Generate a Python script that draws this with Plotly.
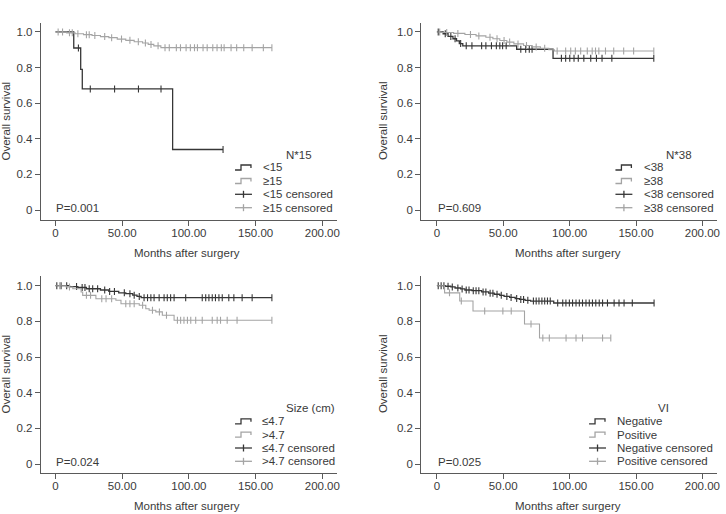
import numpy as np
import plotly.graph_objects as go

W, H = 726, 514

# ---------------- data (months, survival) ----------------
# Panel 1: N*15
lt15_ev = [13.7, 18.9, 20.1, 87.8]
lt15_s = [0.91, 0.79, 0.68, 0.34]
lt15_cens = [17.2, 26.1, 44.3, 62.2, 79.1, 125.6]
ge15_ev = [8.4, 14.7, 21, 27.4, 33.7, 40, 46.3, 52.7, 59, 65.3, 69.5, 73.7, 79]
ge15_s = [0.995, 0.99, 0.985, 0.98, 0.974, 0.968, 0.96, 0.953, 0.945, 0.938, 0.93, 0.922, 0.912]
ge15_cens = [2, 5.3, 10.5, 12.6, 16.8, 23.2, 25.3, 29.5, 36.9, 42.1, 49.5, 55.8, 62.1, 67.4, 71.6,
             76.9, 82.1, 85.3, 90.6, 93.7, 97.9, 101.1, 104.2, 106.4, 110.6, 113.7, 117.9, 121.1,
             124.3, 126.4, 131.6, 135.8, 141.1, 147.4, 155.8, 162.2]

# Panel 2: N*38
lt38_ev = [4.7, 8.4, 12.1, 14.8, 16.9, 19.5, 60.1, 87.5]
lt38_s = [0.99, 0.975, 0.962, 0.95, 0.935, 0.922, 0.903, 0.852]
lt38_cens = [1, 6.3, 10.5, 13.7, 17.9, 22.1, 26.4, 33.7, 36.9, 41.1, 44.8, 47.4, 49.5, 52.2, 63.2,
             66.9, 69.6, 71.7, 93.8, 97, 100.1, 103.3, 106.5, 110.7, 115.9, 120.2, 124.4, 131.8, 163.4]
ge38_ev = [3.2, 12.6, 21.1, 29.5, 36.9, 42.2, 47.4, 52.7, 58, 65.3, 71.7, 78, 84.3, 88.5]
ge38_s = [0.997, 0.992, 0.986, 0.978, 0.97, 0.962, 0.952, 0.943, 0.933, 0.924, 0.916, 0.908, 0.9, 0.893]
ge38_cens = [2.1, 7.4, 15.8, 25.3, 31.6, 40, 45.3, 50.6, 54.8, 61.1, 67.5, 74.8, 81.2, 90.6, 97,
             100.8, 104.3, 108.3, 113.3, 117, 119.5, 122, 127, 133.2, 140.7, 148.2, 163.4]

# Panel 3: Size (cm)
le47_ev = [10.5, 16.8, 23.2, 33.7, 40, 47.4, 52.7, 57.9, 61.1, 64.2]
le47_s = [0.995, 0.99, 0.983, 0.976, 0.968, 0.96, 0.955, 0.947, 0.94, 0.933]
le47_cens = [1, 4.2, 8.4, 15.8, 20, 22.1, 25.3, 27.9, 31.6, 36.9, 40.6, 44.2, 51.6, 55.8, 59, 62.8,
             66.4, 69, 71.5, 73.9, 77.7, 81.4, 83.8, 86.3, 88.9, 97.6, 110, 112.6, 115, 117.5,
             119.9, 122.5, 125, 129.9, 133.7, 139.9, 147.4, 162.2]
gt47_ev = [8, 13, 19.2, 20.4, 30.3, 45.3, 49.1, 62.8, 67.7, 70.2, 75.2, 80.1, 88.9]
gt47_s = [0.993, 0.983, 0.965, 0.946, 0.927, 0.918, 0.899, 0.89, 0.871, 0.862, 0.853, 0.834, 0.806]
gt47_cens = [3.2, 10.5, 23.2, 26.3, 34.7, 37.9, 42.1, 52.7, 55.8, 59, 65.3, 72.7, 77.9, 83.2, 91.4,
             93.8, 96.3, 98.9, 101.4, 105.1, 110, 117.5, 121.2, 123.7, 128.7, 136.1, 162.2]

# Panel 4: VI
neg_ev = [6.3, 10.5, 13.7, 17.9, 21.1, 26.4, 33.7, 39, 43.2, 47.4, 50.6, 54.8, 59, 62.2, 66.4, 70.6, 88]
neg_s = [0.997, 0.993, 0.987, 0.982, 0.976, 0.972, 0.965, 0.958, 0.952, 0.946, 0.94, 0.934,
         0.928, 0.923, 0.918, 0.914, 0.903]
neg_cens = [1, 3.2, 5.3, 8.4, 11.6, 15.8, 19, 22.1, 24.2, 27.4, 29.5, 31.6, 34.8, 36.9, 40.1, 42.2,
            45.3, 48.5, 52.7, 55.9, 60.1, 63.2, 65.3, 68.5, 72.7, 74.8, 76.9, 79.1, 81.2, 83.3, 85.4,
            91, 94.8, 97.2, 99.8, 102.2, 104.8, 107.3, 109.7, 112.3, 114.8, 117.2, 119.7, 122.3,
            124.8, 128.5, 133.5, 137.2, 141, 147.2, 163.6]
pos_ev = [5.8, 17.2, 27.2, 66, 77.3]
pos_s = [0.96, 0.914, 0.858, 0.785, 0.707]
pos_cens = [9.5, 18.4, 36, 49.7, 56, 70.9, 79.8, 84.7, 97.3, 104.8, 109.7, 124.8, 131]

x_tickvals = [0, 50, 100, 150, 200]
x_ticktext = ["0", "50.00", "100.00", "150.00", "200.00"]
y_tickvals = [0, 0.2, 0.4, 0.6, 0.8, 1.0]
y_ticktext = ["0", "0.2", "0.4", "0.6", "0.8", "1.0"]

panels = [
    dict(title="N*15", p="P=0.001",
         groups=[("<15", lt15_ev, lt15_s, lt15_cens), ("≥15", ge15_ev, ge15_s, ge15_cens)]),
    dict(title="N*38", p="P=0.609",
         groups=[("<38", lt38_ev, lt38_s, lt38_cens), ("≥38", ge38_ev, ge38_s, ge38_cens)]),
    dict(title="Size (cm)", p="P=0.024",
         groups=[("≤4.7", le47_ev, le47_s, le47_cens), (">4.7", gt47_ev, gt47_s, gt47_cens)]),
    dict(title="VI", p="P=0.025",
         groups=[("Negative", neg_ev, neg_s, neg_cens), ("Positive", pos_ev, pos_s, pos_cens)]),
]

# ---------------- layout geometry (pixels) ----------------
def px(x):
    return x / W

def py(y):
    return 1 - y / H

DARK = "#363636"
LIGHT = "#a4a4a4"
TXT = "#3a3a3a"
AX = "#5a5a5a"
FONT = "Liberation Sans, Arial, sans-serif"
FS = 11.5

geo = [
    dict(xd=(41, 338), xr=(-10.97, 210.7), yd=(220, 22.7), yr=(-0.056, 1.052),
         leg_icon=236, leg_text=262, leg_rows=[167.5, 181, 194.3, 207.7], leg_title=(300, 154.5),
         ytitle=(6.5, 121), xtitle=(188, 253)),
    dict(xd=(423, 719.7), xr=(-11.78, 210.8), yd=(220, 22.7), yr=(-0.056, 1.052),
         leg_icon=618, leg_text=645, leg_rows=[167.5, 181, 194.3, 207.7], leg_title=(682, 154.5),
         ytitle=(384.7, 121), xtitle=(570, 253)),
    dict(xd=(41, 338), xr=(-10.97, 210.7), yd=(473, 276), yr=(-0.0505, 1.0544),
         leg_icon=236, leg_text=261.5, leg_rows=[421.3, 434.6, 448, 461.3], leg_title=(312, 408),
         ytitle=(6.5, 374), xtitle=(188, 506)),
    dict(xd=(423, 719.7), xr=(-11.78, 210.8), yd=(473, 276), yr=(-0.0505, 1.0544),
         leg_icon=591.5, leg_text=617.5, leg_rows=[421.3, 434.6, 448, 461.3], leg_title=(666, 408),
         ytitle=(384.7, 374), xtitle=(570, 506)),
]

fig = go.Figure()
shapes = []
annotations = []


def step_xy(ev, s, cens):
    end = max(max(cens), ev[-1])
    xs = [0] + list(ev) + [end]
    ys = [1.0] + list(s) + [s[-1]]
    return xs, ys


def surv_at(ev, s, t):
    levels = np.array([1.0] + list(s))
    idx = np.searchsorted(np.array(ev), np.array(t), side="right")
    return levels[idx]


for i, (pan, g) in enumerate(zip(panels, geo)):
    n = "" if i == 0 else str(i + 1)
    xa, ya = "x" + n, "y" + n
    for (name, ev, s, cens), col, lw in zip(pan["groups"], [DARK, LIGHT], [1.3, 1.1]):
        xs, ys = step_xy(ev, s, cens)
        fig.add_trace(go.Scatter(x=xs, y=ys, mode="lines", line=dict(color=col, width=lw, shape="hv"),
                                 xaxis=xa, yaxis=ya, showlegend=False, name=name))
        cy = surv_at(ev, s, cens)
        fig.add_trace(go.Scatter(x=cens, y=cy, mode="markers",
                                 marker=dict(symbol="line-ns", size=5, color=col,
                                             line=dict(color=col, width=1.1)),
                                 xaxis=xa, yaxis=ya, showlegend=False, name=name + " censored"))

    axis_common = dict(showgrid=False, zeroline=False, showline=True, linecolor=AX, linewidth=1,
                       ticks="outside", ticklen=5, tickcolor=AX, tickwidth=1,
                       tickfont=dict(family=FONT, size=FS, color=TXT))
    fig.layout["xaxis" + n] = dict(domain=[px(g["xd"][0]), px(g["xd"][1])], range=list(g["xr"]),
                                   anchor=ya, tickvals=x_tickvals, ticktext=x_ticktext,
                                   ticklabelstandoff=-3, **axis_common)
    fig.layout["yaxis" + n] = dict(domain=[py(g["yd"][0]), py(g["yd"][1])], range=list(g["yr"]),
                                   anchor=xa, tickvals=y_tickvals, ticktext=y_ticktext, **axis_common)

    # axis titles
    annotations.append(dict(x=px(g["xtitle"][0]), y=py(g["xtitle"][1]), xref="paper", yref="paper",
                            text="Months after surgery", showarrow=False, xanchor="center", yanchor="middle",
                            font=dict(family=FONT, size=FS, color=TXT)))
    annotations.append(dict(x=px(g["ytitle"][0]), y=py(g["ytitle"][1]), xref="paper", yref="paper",
                            text="Overall survival", showarrow=False, textangle=-90,
                            xanchor="center", yanchor="middle",
                            font=dict(family=FONT, size=FS, color=TXT)))
    # P value
    annotations.append(dict(x=0, y=0.012, xref=xa, yref=ya, text=pan["p"], showarrow=False,
                            xanchor="left", yanchor="middle", xshift=-1,
                            font=dict(family=FONT, size=FS, color=TXT)))
    # legend title
    annotations.append(dict(x=px(g["leg_title"][0]), y=py(g["leg_title"][1]), xref="paper", yref="paper",
                            text=pan["title"], showarrow=False, xanchor="center", yanchor="middle",
                            font=dict(family=FONT, size=FS, color=TXT)))
    labels = [pan["groups"][0][0], pan["groups"][1][0],
              pan["groups"][0][0] + " censored", pan["groups"][1][0] + " censored"]
    cols = [DARK, LIGHT, DARK, LIGHT]
    x0 = g["leg_icon"]
    for k, (lab, col, ry) in enumerate(zip(labels, cols, g["leg_rows"])):
        annotations.append(dict(x=px(g["leg_text"]), y=py(ry), xref="paper", yref="paper",
                                text=lab, showarrow=False, xanchor="left", yanchor="middle",
                                font=dict(family=FONT, size=FS, color=TXT)))
        if k < 2:
            path = "M {} {} L {} {} L {} {} L {} {} L {} {}".format(
                px(x0), py(ry + 2.5), px(x0 + 6), py(ry + 2.5), px(x0 + 6), py(ry - 2.5),
                px(x0 + 16), py(ry - 2.5), px(x0 + 16), py(ry + 0.5))
            shapes.append(dict(type="path", path=path, xref="paper", yref="paper",
                               line=dict(color=col, width=1.3)))
        else:
            shapes.append(dict(type="line", x0=px(x0), x1=px(x0 + 17), y0=py(ry), y1=py(ry),
                               xref="paper", yref="paper", line=dict(color=col, width=1.3)))
            shapes.append(dict(type="line", x0=px(x0 + 8.5), x1=px(x0 + 8.5), y0=py(ry - 3.5),
                               y1=py(ry + 3.5), xref="paper", yref="paper",
                               line=dict(color=col, width=1.3)))

fig.update_layout(width=W, height=H, margin=dict(l=0, r=0, t=0, b=0),
                  paper_bgcolor="white", plot_bgcolor="white", showlegend=False,
                  shapes=shapes, annotations=annotations,
                  font=dict(family=FONT, size=FS, color=TXT))

fig.write_html("out.html")
